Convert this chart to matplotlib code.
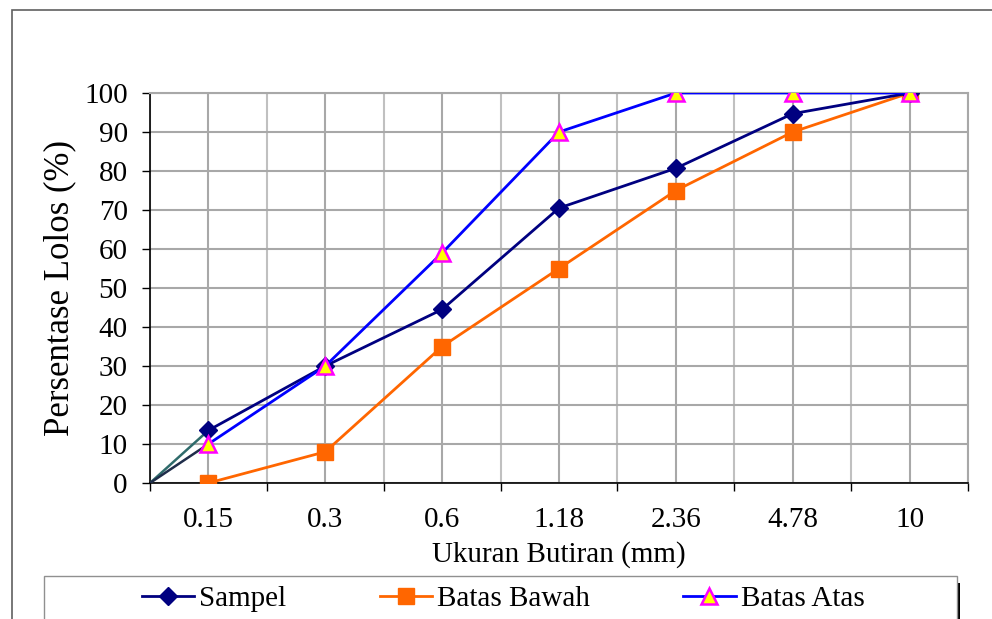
import matplotlib.pyplot as plt
from matplotlib.patches import Rectangle
from matplotlib.lines import Line2D
import numpy as np

ukuran = ['0.15', '0.3', '0.6', '1.18', '2.36', '4.78', '10']
sampel = [13.5, 30, 44.5, 70.5, 80.7, 94.7, 100]
batas_bawah = [0, 8, 35, 55, 75, 90, 100]
batas_atas = [10, 30, 59, 90, 100, 100, 100]

plt.rcParams['font.family'] = ['Liberation Serif', 'DejaVu Serif']

W, H = 992, 619
fig = plt.figure(figsize=(W/100, H/100), dpi=100)
ax = fig.add_axes([150/W, 1-483/H, (968-150)/W, (483-93)/H])

x = np.arange(len(ukuran))

# garis dari titik nol ke titik pertama
ax.plot([-0.5, x[0]], [0, sampel[0]], color='#2f6b6b', lw=1.8, zorder=3)
ax.plot([-0.5, x[0]], [0, batas_atas[0]], color='#1f2d4a', lw=1.8, zorder=3)

ax.plot(x, batas_bawah, color='#ff6600', lw=2, marker='s', ms=11,
        mfc='#ff6600', mec='#ff6600', zorder=4, label='Batas Bawah')
ax.plot(x, sampel, color='#000080', lw=2, marker='D', ms=9,
        mfc='#000080', mec='#000080', zorder=5, label='Sampel')
ax.plot(x, batas_atas, color='#0000ff', lw=2, marker='^', ms=11,
        mfc='#ffff00', mec='#ff00ff', mew=1.8, zorder=6, label='Batas Atas')

ax.set_xlim(-0.5, len(ukuran)-0.5)
ax.set_ylim(0, 100)
ax.set_yticks(range(0, 101, 10))
ax.set_xticks(x)
ax.set_xticklabels(ukuran)
ax.set_xticks(np.arange(-0.5, len(ukuran), 1), minor=True)
ax.tick_params(axis='x', which='major', length=0, pad=17, labelsize=21)
ax.tick_params(axis='x', which='minor', length=6, width=1, direction='out')
ax.tick_params(axis='y', length=6, width=1, direction='out', labelsize=21, pad=10)

ax.grid(True, which='major', color='#a8a8a8', lw=1.5, zorder=0)
ax.grid(True, which='minor', axis='x', color='#c0c0c0', lw=1.5, zorder=0)
ax.set_axisbelow(True)
for s in ['top', 'right']:
    ax.spines[s].set_color('#a8a8a8')
    ax.spines[s].set_linewidth(1.5)
for s in ['left', 'bottom']:
    ax.spines[s].set_color('black')
    ax.spines[s].set_linewidth(1.2)

ax.set_xlabel('Ukuran Butiran (mm)', fontsize=21, labelpad=6)
ax.set_ylabel('Persentase Lolos (%)', fontsize=25, labelpad=6)

# bingkai luar
fig.patches.append(Rectangle((12/W, -0.1), 1.1, 1-10/H+0.1, transform=fig.transFigure,
                             fill=False, ec='#606060', lw=1.2))

# kotak legenda
fig.patches.append(Rectangle((955/W, -0.05), 5/W, (619-583)/H+0.05, transform=fig.transFigure,
                             fc='black', ec='none'))
fig.patches.append(Rectangle((44/W, -0.05), (957-44)/W, (619-576)/H+0.05, transform=fig.transFigure,
                             fc='white', ec='#909090', lw=1))

handles = [
    Line2D([], [], color='#000080', lw=2, marker='D', ms=9, mfc='#000080', mec='#000080'),
    Line2D([], [], color='#ff6600', lw=2, marker='s', ms=11, mfc='#ff6600', mec='#ff6600'),
    Line2D([], [], color='#0000ff', lw=2, marker='^', ms=11, mfc='#ffff00', mec='#ff00ff', mew=1.8),
]
fig.legend(handles, ['Sampel', 'Batas Bawah', 'Batas Atas'], loc='center',
           bbox_to_anchor=(503/W, 1-599/H), ncol=3, frameon=False, fontsize=21,
           handlelength=1.8, handletextpad=0.17, columnspacing=3.2)

fig.savefig('out.png', dpi=100)
